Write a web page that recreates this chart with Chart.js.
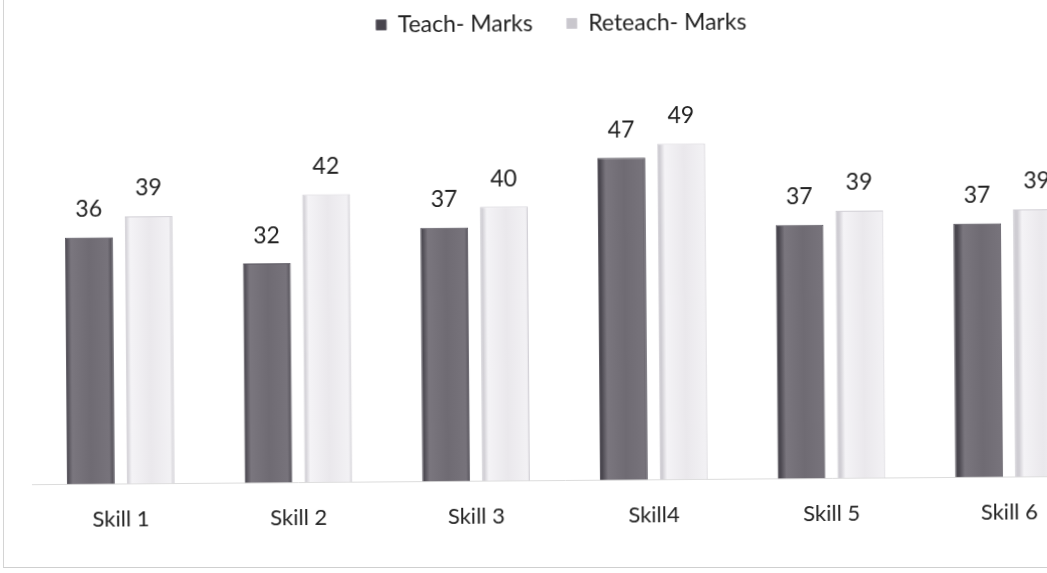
<!DOCTYPE html>
<html>
<head>
<meta charset="utf-8">
<script src="https://cdn.jsdelivr.net/npm/chart.js@4/dist/chart.umd.min.js"></script>
<style>
  html, body { margin: 0; padding: 0; background: #fff; overflow: hidden; }
  #frame {
    position: absolute; left: 3px; top: -10px; width: 1100px; height: 577px;
    border-left: 1px solid #d4d4d4; border-bottom: 1px solid #cfcfcf;
  }
  #chart-container {
    position: absolute; left: 0; top: 0; width: 1130px; height: 573px;
    transform: rotate(-0.45deg); transform-origin: 50% 85%;
  }
</style>
</head>
<body>
<div id="frame"></div>
<div id="chart-container"><canvas id="chart"></canvas></div>
<script>
const categories = ["Skill 1", "Skill 2", "Skill 3", "Skill4", "Skill 5", "Skill 6"];
const teachMarks = [36, 32, 37, 47, 37, 37];
const reteachMarks = [39, 42, 40, 49, 39, 39];

// bevelled look: dark edges, lighter middle
function barFill(ctx, dark) {
  const bar = ctx.element;
  const c = ctx.chart.ctx;
  if (!bar || bar.width === undefined) return dark ? "#6b676f" : "#ebe9ed";
  const x0 = bar.x - bar.width / 2;
  const g = c.createLinearGradient(x0, 0, x0 + bar.width, 0);
  if (dark) {
    g.addColorStop(0, "#4a474f");
    g.addColorStop(0.12, "#7a767e");
    g.addColorStop(0.5, "#6f6b73");
    g.addColorStop(0.88, "#77737b");
    g.addColorStop(1, "#48454d");
  } else {
    g.addColorStop(0, "#cfcdd3");
    g.addColorStop(0.1, "#f4f3f6");
    g.addColorStop(0.5, "#eae8ec");
    g.addColorStop(0.9, "#f2f1f4");
    g.addColorStop(1, "#c9c7cd");
  }
  return g;
}

const valueLabels = {
  id: "valueLabels",
  afterDatasetsDraw(chart) {
    const c = chart.ctx;
    c.save();
    c.font = "23px Lato";
    c.fillStyle = "#222";
    c.textAlign = "center";
    c.textBaseline = "middle";
    chart.data.datasets.forEach((ds, i) => {
      chart.getDatasetMeta(i).data.forEach((bar, j) => {
        c.fillText(ds.data[j], bar.x, bar.y - 28);
      });
    });
    c.restore();
  }
};

new Chart(document.getElementById("chart"), {
  type: "bar",
  data: {
    labels: categories,
    datasets: [
      {
        label: "Teach- Marks",
        data: teachMarks,
        backgroundColor: (ctx) => barFill(ctx, true),
        borderColor: "#5a5760",
        borderWidth: 1,
      },
      {
        label: "Reteach- Marks",
        data: reteachMarks,
        backgroundColor: (ctx) => barFill(ctx, false),
        borderColor: "#d2d0d6",
        borderWidth: 1,
      },
    ],
  },
  options: {
    responsive: true,
    maintainAspectRatio: false,
    animation: false,
    categoryPercentage: 0.674,
    barPercentage: 0.8,
    layout: { padding: { top: -22, left: 32, right: 32, bottom: 30 } },
    plugins: {
      legend: {
        position: "top",
        labels: {
          boxWidth: 10,
          boxHeight: 10,
          padding: 34,
          color: "#222",
          font: { family: "Lato", size: 23 },
        },
      },
      tooltip: { enabled: false },
    },
    scales: {
      x: {
        grid: { display: false },
        border: { display: true, color: "#dcdcdc" },
        ticks: { color: "#222", padding: 14, font: { family: "Lato", size: 22 } },
      },
      y: { display: false, min: 0, max: 63.5 },
    },
  },
  plugins: [valueLabels],
});
</script>
</body>
</html>
